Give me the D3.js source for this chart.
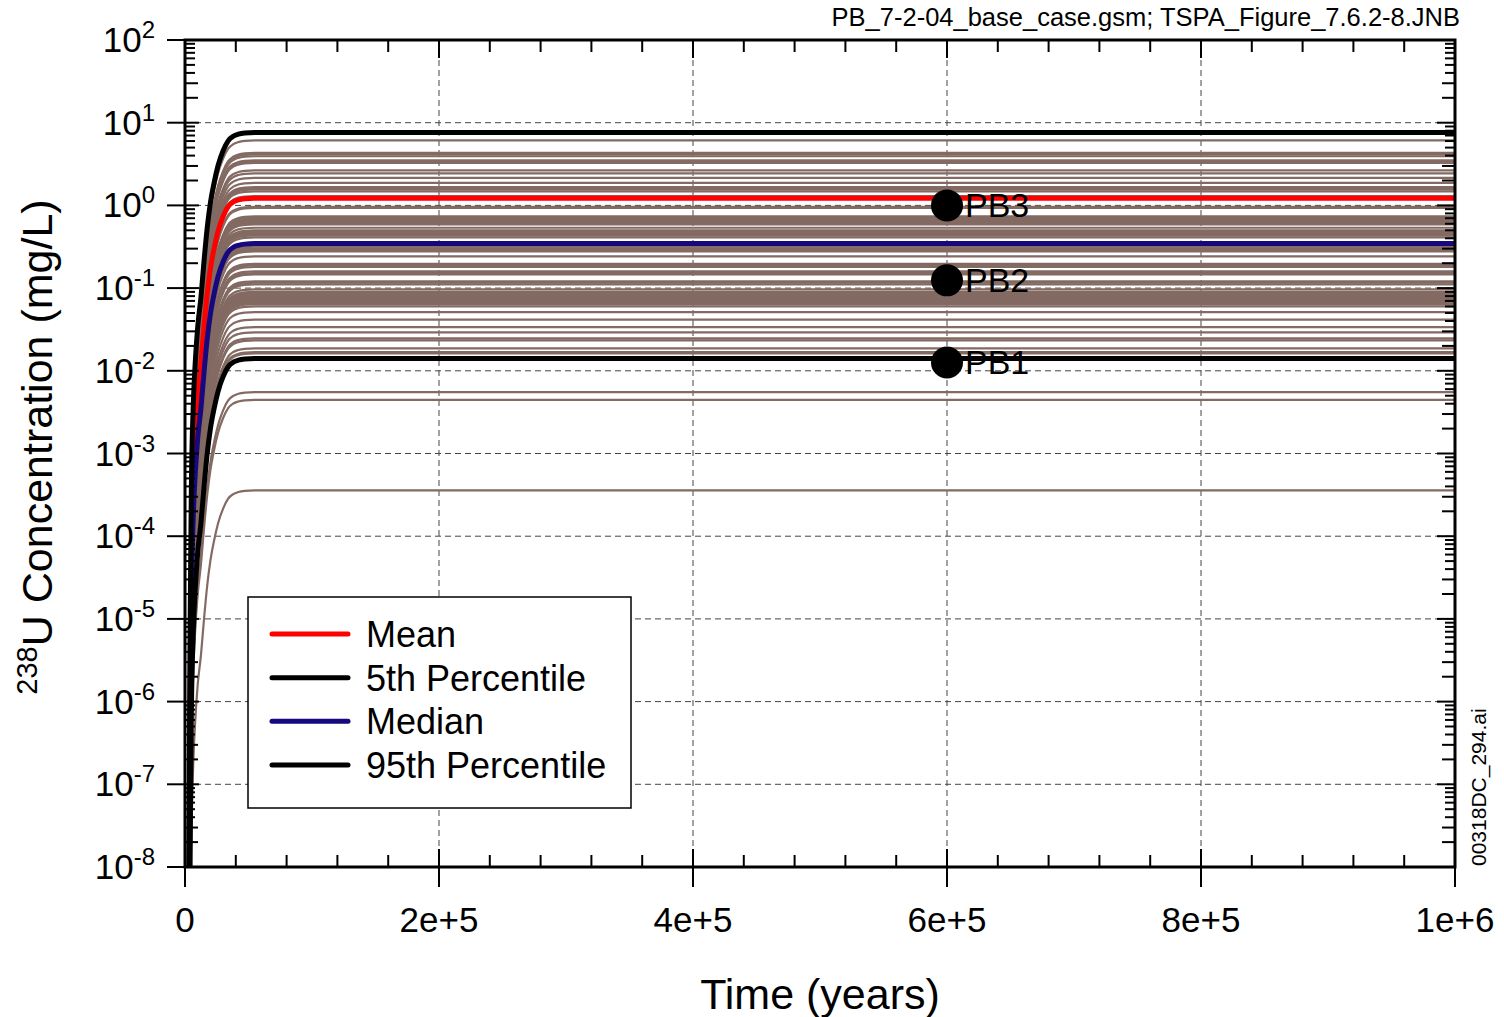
<!DOCTYPE html>
<html><head><meta charset="utf-8">
<script src="https://cdn.jsdelivr.net/npm/d3@7"></script>
<style>
body{margin:0;background:#fff}
svg{display:block}
text{font-family:"Liberation Sans",Arial,Helvetica,sans-serif;fill:#000}
</style>
</head><body>
<svg id="chart" width="1504" height="1017"></svg>
<script>
// ---------------- data ----------------
const xTickValues = [0, 2e5, 4e5, 6e5, 8e5, 1e6];
const xTickLabels = ["0", "2e+5", "4e+5", "6e+5", "8e+5", "1e+6"];
const yDecadeExponents = [-8, -7, -6, -5, -4, -3, -2, -1, 0, 1, 2];

// common rise shape (years, decades below the plateau)
const riseTimes = [2000, 3000, 4000, 5000, 6500, 8000, 10000, 12500, 15000, 17500, 20000, 23000, 26000, 30000, 34000, 38000, 42000, 47000, 55000, 1000000];
const riseDecadesBelowPlateau = [14, 9, 6.0, 4.3, 3.3, 2.8, 2.35, 2.0, 1.55, 1.15, 0.85, 0.6, 0.4, 0.22, 0.1, 0.045, 0.02, 0.006, 0, 0];

// plateau concentration (mg/L) of each realization
const realizationPlateaus = [
  6.1, 4.31, 4.15, 3.93, 3.5, 3.38, 3.26, 2.65, 2.44, 2.15, 1.87, 1.67, 1.61, 1.56, 1.48,
  1.30, 0.959, 0.93, 0.736, 0.71, 0.687, 0.665, 0.641, 0.615, 0.589, 0.537,
  0.499, 0.482, 0.465, 0.449, 0.434, 0.41,
  0.335, 0.318, 0.302, 0.29, 0.278, 0.242, 0.196, 0.188, 0.180, 0.159, 0.152, 0.146,
  0.121, 0.116, 0.111, 0.0966, 0.0898, 0.0868, 0.0839, 0.0811, 0.0783, 0.0757, 0.0731, 0.0707, 0.0683, 0.0655, 0.0638, 0.0602,
  0.0513, 0.0415, 0.0338, 0.0292, 0.0247, 0.0233, 0.0187, 0.0168, 0.0162,
  0.00552, 0.00446, 0.000358
];

const statNames = ["Mean", "5th Percentile", "Median", "95th Percentile"];
const statPlateaus = [1.22, 0.0141, 0.345, 7.6];
const statColors = ["#ff0000", "#000000", "#16087e", "#000000"];

const pbLabels = ["PB1", "PB2", "PB3"];
const pbTimes = [6e5, 6e5, 6e5];
const pbValues = [0.0126, 0.124, 1.0];

const headerText = "PB_7-2-04_base_case.gsm; TSPA_Figure_7.6.2-8.JNB";
const sideText = "00318DC_294.ai";

// ---------------- layout ----------------
const X0 = 185, X1 = 1455, Y0 = 40, Y1 = 867;
const svg = d3.select("#chart");
const x = d3.scaleLinear().domain([0, 1e6]).range([X0, X1]);
const y = d3.scaleLog().domain([1e-8, 1e2]).range([Y1, Y0]);

svg.append("defs").append("clipPath").attr("id", "plotClip")
  .append("rect").attr("x", X0).attr("y", Y0).attr("width", X1 - X0).attr("height", Y1 - Y0);

// grid
const grid = svg.append("g").attr("stroke", "#444").attr("stroke-width", 1).attr("stroke-dasharray", "6,4");
grid.selectAll("line.gx").data(xTickValues.slice(1, -1)).join("line")
  .attr("x1", d => x(d)).attr("x2", d => x(d)).attr("y1", Y0).attr("y2", Y1);
grid.selectAll("line.gy").data(yDecadeExponents.slice(1, -1)).join("line")
  .attr("x1", X0).attr("x2", X1).attr("y1", d => y(Math.pow(10, d))).attr("y2", d => y(Math.pow(10, d)));

// curves
function curvePoints(plateau) {
  return riseTimes.map((t, i) => ({ t: t, v: plateau * Math.pow(10, -riseDecadesBelowPlateau[i]) }));
}
const line = d3.line().x(d => x(d.t)).y(d => y(d.v)).curve(d3.curveMonotoneX);
const plot = svg.append("g").attr("clip-path", "url(#plotClip)");
plot.selectAll("path.real").data(realizationPlateaus).join("path")
  .attr("class", "real").attr("fill", "none").attr("stroke", "#836a62").attr("stroke-width", 2.2)
  .attr("d", d => line(curvePoints(d)));
const statOrder = [0, 2, 1, 3];
plot.selectAll("path.stat").data(statOrder).join("path")
  .attr("class", "stat").attr("fill", "none").attr("stroke", i => statColors[i]).attr("stroke-width", 5)
  .attr("d", i => line(curvePoints(statPlateaus[i])));

// axes ticks
const ax = svg.append("g").attr("stroke", "#000").attr("stroke-width", 2);
const xMinor = d3.range(0, 1e6 + 1, 4e4).filter(v => !xTickValues.includes(v));
ax.selectAll("line.bM").data(xTickValues).join("line")
  .attr("x1", d => x(d)).attr("x2", d => x(d)).attr("y1", Y1 - 18).attr("y2", Y1 + 20);
ax.selectAll("line.bm").data(xMinor).join("line")
  .attr("x1", d => x(d)).attr("x2", d => x(d)).attr("y1", Y1 - 12).attr("y2", Y1);
ax.selectAll("line.tM").data(xTickValues).join("line")
  .attr("x1", d => x(d)).attr("x2", d => x(d)).attr("y1", Y0).attr("y2", Y0 + 18);
ax.selectAll("line.tm").data(xMinor).join("line")
  .attr("x1", d => x(d)).attr("x2", d => x(d)).attr("y1", Y0).attr("y2", Y0 + 12);
const yMinor = [];
yDecadeExponents.slice(0, -1).forEach(e => { for (let k = 2; k <= 9; k++) yMinor.push({ v: k * Math.pow(10, e), k: k }); });
ax.selectAll("line.lM").data(yDecadeExponents).join("line")
  .attr("x1", X0 - 18).attr("x2", X0 + 14).attr("y1", d => y(Math.pow(10, d))).attr("y2", d => y(Math.pow(10, d)));
ax.selectAll("line.lm").data(yMinor).join("line")
  .attr("x1", X0).attr("x2", d => X0 + (d.k <= 3 ? 13 : 10)).attr("y1", d => y(d.v)).attr("y2", d => y(d.v));
ax.selectAll("line.rM").data(yDecadeExponents).join("line")
  .attr("x1", X1 - 18).attr("x2", X1).attr("y1", d => y(Math.pow(10, d))).attr("y2", d => y(Math.pow(10, d)));
ax.selectAll("line.rm").data(yMinor).join("line")
  .attr("x1", d => X1 - (d.k <= 3 ? 13 : 10)).attr("x2", X1).attr("y1", d => y(d.v)).attr("y2", d => y(d.v));

// frame
svg.append("rect").attr("x", X0).attr("y", Y0).attr("width", X1 - X0).attr("height", Y1 - Y0)
  .attr("fill", "none").attr("stroke", "#000").attr("stroke-width", 3);

// tick labels
svg.selectAll("text.xl").data(xTickValues).join("text")
  .attr("x", d => x(d)).attr("y", 932).attr("text-anchor", "middle").attr("font-size", 35)
  .text((d, i) => xTickLabels[i]);
const yl = svg.selectAll("text.yl").data(yDecadeExponents).join("text")
  .attr("x", 155).attr("y", d => y(Math.pow(10, d)) + 12).attr("text-anchor", "end").attr("font-size", 35);
yl.append("tspan").text("10");
yl.append("tspan").attr("dy", -14).attr("font-size", 24).text(d => String(d));

// axis titles
svg.append("text").attr("x", (X0 + X1) / 2).attr("y", 1009).attr("text-anchor", "middle")
  .attr("font-size", 43).text("Time (years)");
const yt = svg.append("text").attr("transform", "translate(52,447) rotate(-90)").attr("text-anchor", "middle")
  .attr("font-size", 43);
yt.append("tspan").attr("font-size", 29).attr("dy", -15).text("238");
yt.append("tspan").attr("dy", 15).text("U Concentration (mg/L)");

// header and side label
svg.append("text").attr("x", 1460).attr("y", 26).attr("text-anchor", "end").attr("font-size", 25.5).text(headerText);
svg.append("text").attr("transform", "translate(1486,866) rotate(-90)").attr("text-anchor", "start")
  .attr("font-size", 21).text(sideText);

// PB markers
svg.selectAll("circle.pb").data(pbValues).join("circle")
  .attr("cx", (d, i) => x(pbTimes[i])).attr("cy", d => y(d)).attr("r", 16).attr("fill", "#000");
svg.selectAll("text.pb").data(pbValues).join("text")
  .attr("x", (d, i) => x(pbTimes[i]) + 18).attr("y", d => y(d) + 12).attr("font-size", 34)
  .text((d, i) => pbLabels[i]);

// legend
const lg = svg.append("g");
lg.append("rect").attr("x", 248).attr("y", 597).attr("width", 383).attr("height", 211)
  .attr("fill", "#fff").attr("stroke", "#000").attr("stroke-width", 1.5);
const legendY = d3.scalePoint().domain(statNames).range([634, 765]);
lg.selectAll("line").data(statNames).join("line")
  .attr("x1", 272).attr("x2", 348).attr("y1", d => legendY(d)).attr("y2", d => legendY(d))
  .attr("stroke", (d, i) => statColors[i]).attr("stroke-width", 5).attr("stroke-linecap", "round");
lg.selectAll("text").data(statNames).join("text")
  .attr("x", 366).attr("y", d => legendY(d) + 13).attr("font-size", 36).text(d => d);
</script>
</body></html>
